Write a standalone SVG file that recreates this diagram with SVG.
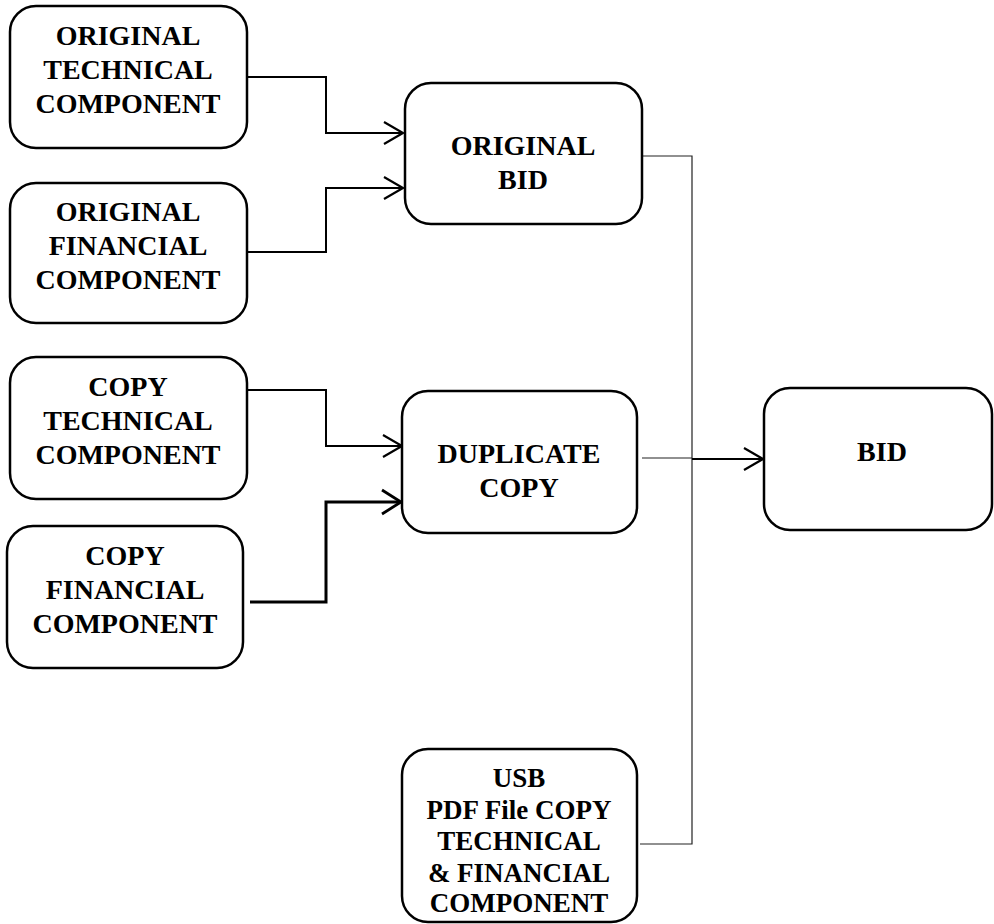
<svg xmlns="http://www.w3.org/2000/svg" width="994" height="924" viewBox="0 0 994 924">
<defs>
<style>
.box{fill:#fff;stroke:#000;stroke-width:2.5}
.t{font-family:"Liberation Serif","Times New Roman",serif;font-weight:bold;font-size:28px;text-anchor:middle;fill:#000}
.s{font-size:27px}
.c{fill:none;stroke:#000;stroke-width:2}
.thin{fill:none;stroke:#222;stroke-width:1.2}
.ah{fill:none;stroke:#000;stroke-width:2.2}
</style>
</defs>
<rect width="994" height="924" fill="#fff"/>
<g id="connectors">
<path class="c" d="M247,77 H326 V133 H402"/>
<path class="ah" d="M384,122 L403,133 L384,144"/>
<path class="c" d="M247,252 H326 V188 H402"/>
<path class="ah" d="M384,177 L403,188 L384,199"/>
<path class="c" d="M247,390 H326 V446 H401"/>
<path class="ah" d="M383,435 L402,446 L383,457"/>
<path class="c" d="M250,602 H326 V502 H400" style="stroke-width:3"/>
<path class="ah" d="M382,490 L401,502 L382,514" style="stroke-width:2.8"/>
<path class="thin" d="M642,156 H692 V844 H640"/>
<path class="thin" d="M642,458 H692"/>
<path class="c" d="M692,459 H762"/>
<path class="ah" d="M744,448 L763,459 L744,470"/>
</g>
<g id="orig-tech">
<rect class="box" x="10" y="6" width="237" height="142" rx="26"/>
<text class="t" x="128" y="45">ORIGINAL</text>
<text class="t" x="128" y="79">TECHNICAL</text>
<text class="t" x="128" y="113">COMPONENT</text>
</g>
<g id="orig-fin">
<rect class="box" x="10" y="183" width="237" height="140" rx="26"/>
<text class="t" x="128" y="221">ORIGINAL</text>
<text class="t" x="128" y="255">FINANCIAL</text>
<text class="t" x="128" y="289">COMPONENT</text>
</g>
<g id="copy-tech">
<rect class="box" x="10" y="357" width="237" height="142" rx="26"/>
<text class="t" x="128" y="396">COPY</text>
<text class="t" x="128" y="430">TECHNICAL</text>
<text class="t" x="128" y="464">COMPONENT</text>
</g>
<g id="copy-fin">
<rect class="box" x="7" y="526" width="236" height="142" rx="26"/>
<text class="t" x="125" y="565">COPY</text>
<text class="t" x="125" y="599">FINANCIAL</text>
<text class="t" x="125" y="633">COMPONENT</text>
</g>
<g id="original-bid">
<rect class="box" x="405" y="83" width="237" height="141" rx="26"/>
<text class="t" x="523" y="155">ORIGINAL</text>
<text class="t" x="523" y="189">BID</text>
</g>
<g id="duplicate-copy">
<rect class="box" x="402" y="391" width="235" height="142" rx="26"/>
<text class="t" x="519" y="463">DUPLICATE</text>
<text class="t" x="519" y="497">COPY</text>
</g>
<g id="bid">
<rect class="box" x="764" y="388" width="228" height="142" rx="26"/>
<text class="t" x="882" y="461">BID</text>
</g>
<g id="usb">
<rect class="box" x="402" y="749" width="235" height="173" rx="26"/>
<text class="t s" x="519" y="787">USB</text>
<text class="t s" x="519" y="819">PDF File COPY</text>
<text class="t s" x="519" y="850">TECHNICAL</text>
<text class="t s" x="519" y="882">&amp; FINANCIAL</text>
<text class="t s" x="519" y="912">COMPONENT</text>
</g>
</svg>
